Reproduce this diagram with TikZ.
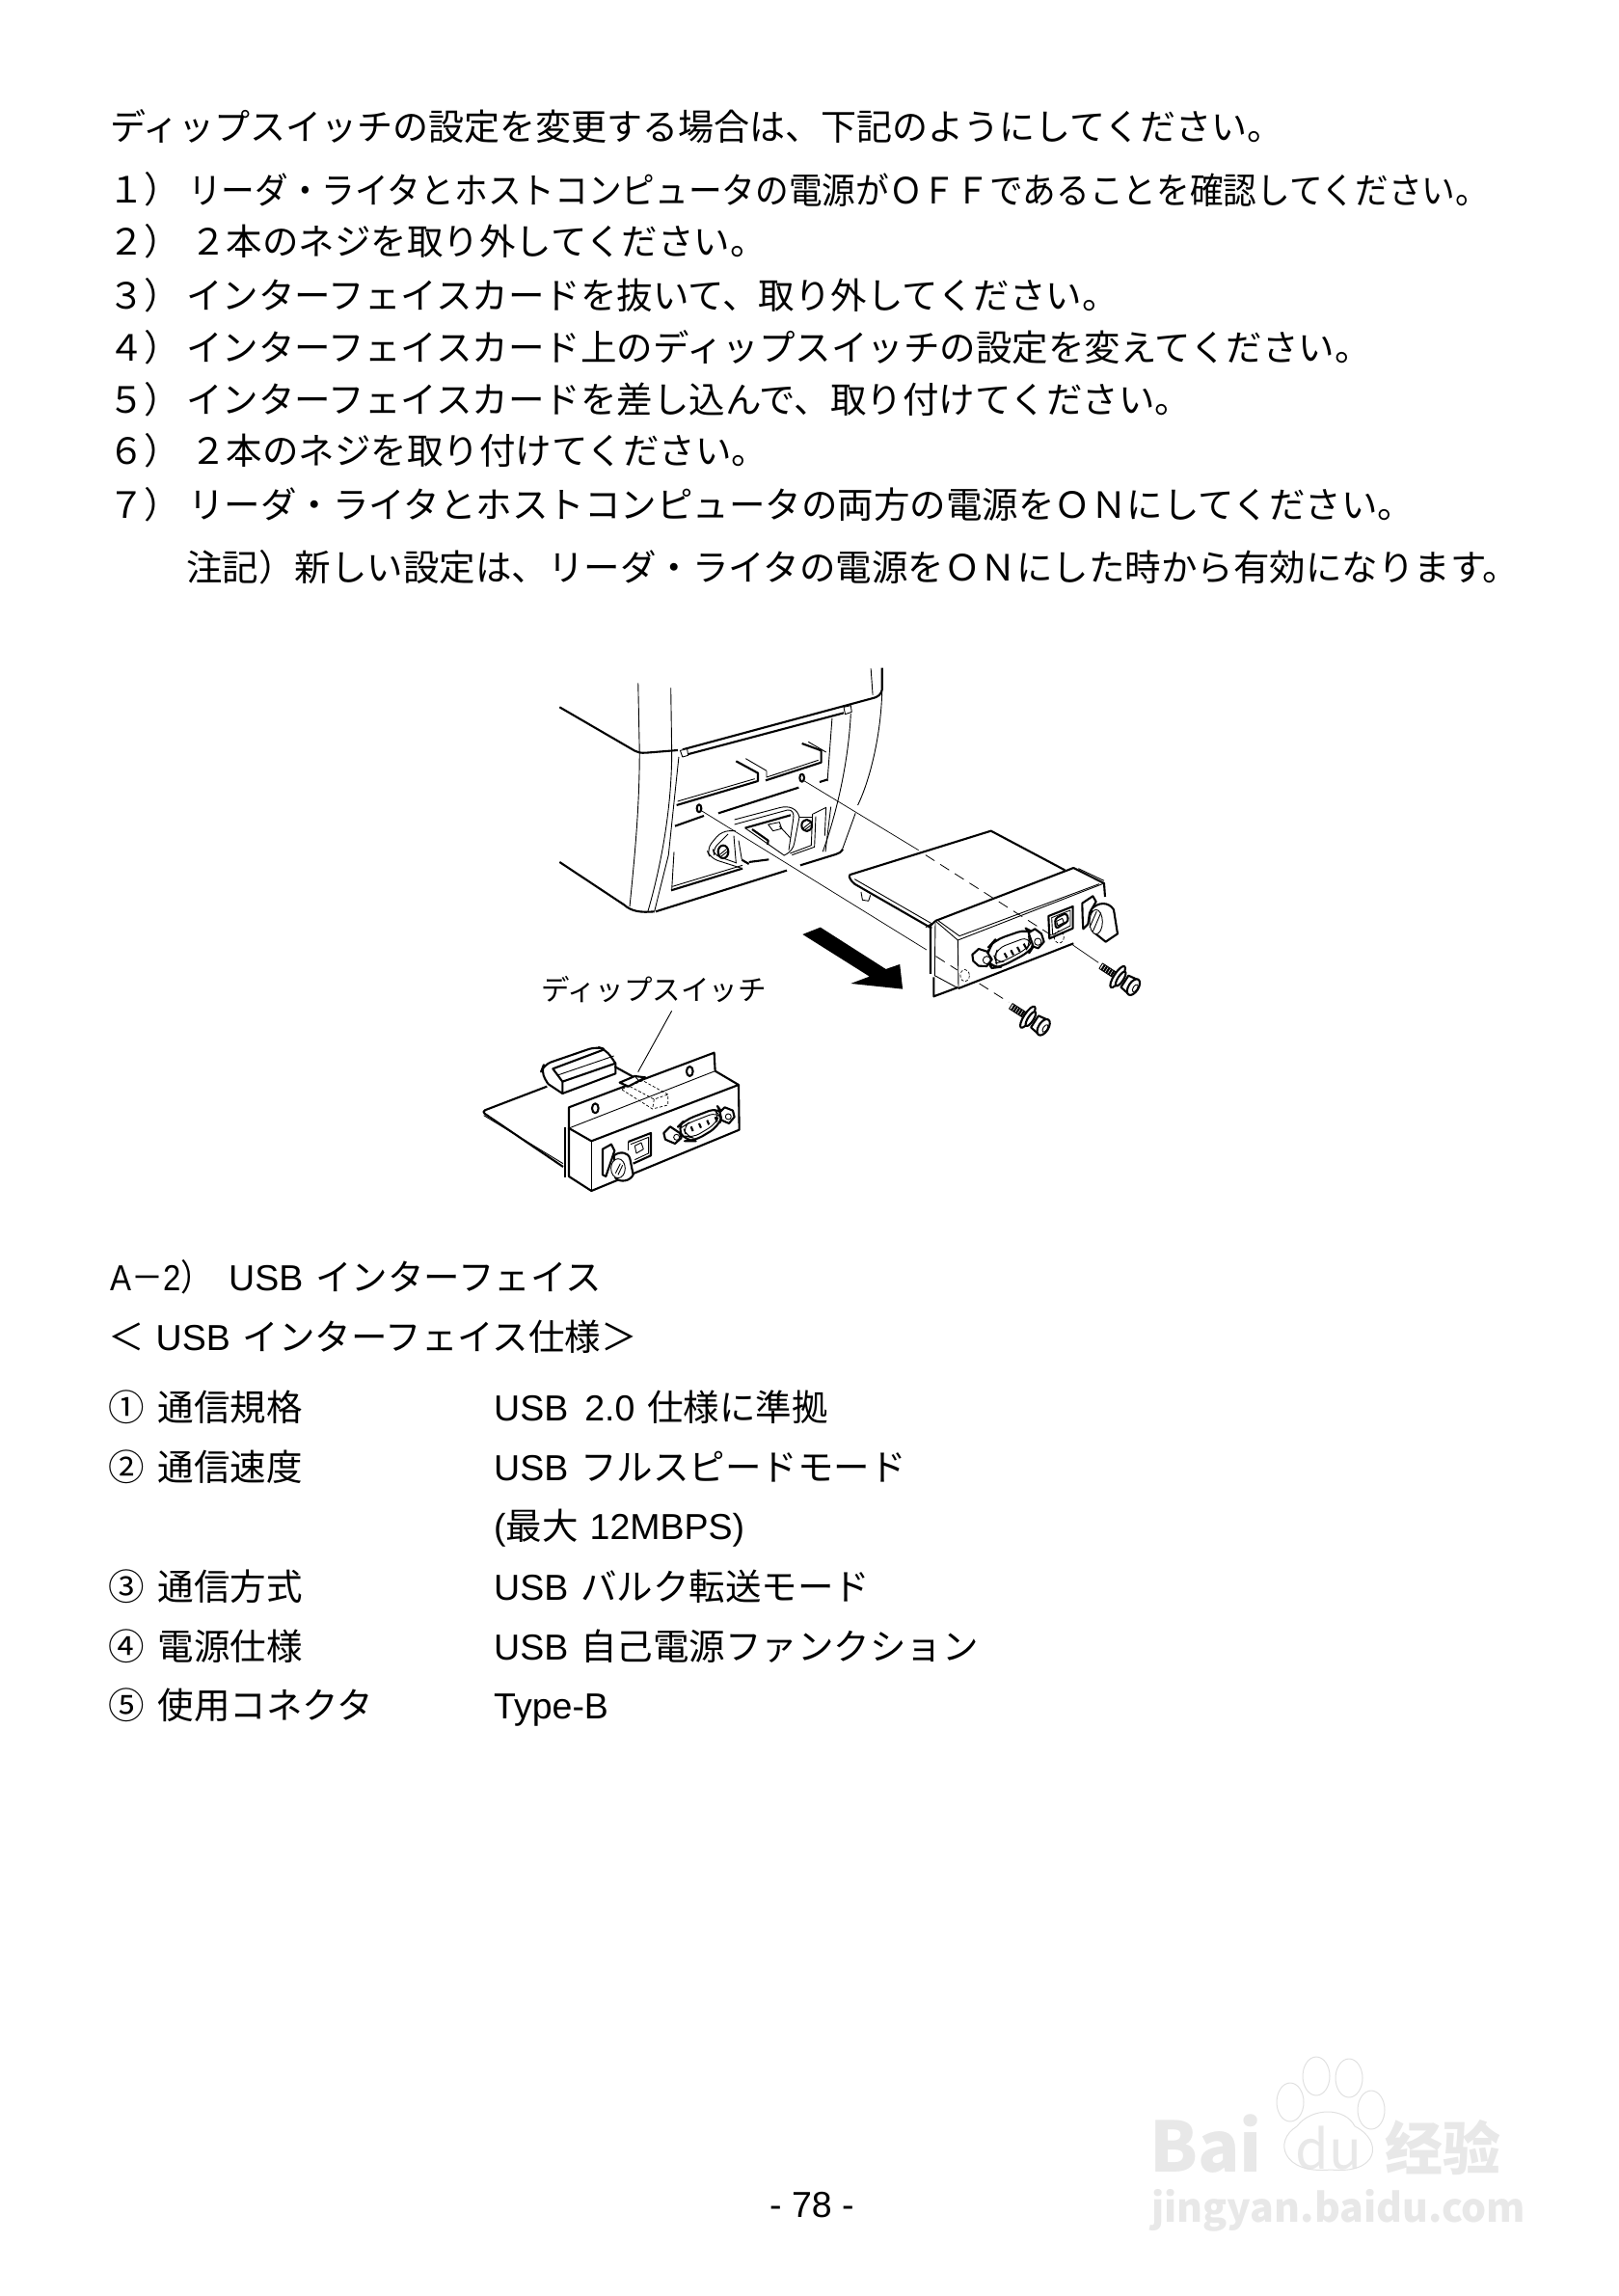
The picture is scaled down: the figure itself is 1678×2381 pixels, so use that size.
\documentclass[tikz,border=0pt]{standalone}
\usepackage{fontspec}
\setmainfont{Noto Sans CJK JP}
\newfontfamily\latn{Liberation Sans}
\newcommand{\ksp}{\hspace{13pt}}
\newcommand{\usbtxt}{{\latn USB}\ksp}
\usetikzlibrary{shapes.geometric}
\tikzset{
    txt/.style={anchor=base west,inner sep=0pt,font=\fontsize{37.5}{37.5}\selectfont},
    thinln/.style={line width=0.9pt,line join=round},
    thickln/.style={line width=2.1pt,line join=round},
    hairln/.style={line width=0.7pt},
    dashln/.style={line width=0.8pt,dash pattern=on 11pt off 7pt},
    wmark/.style={inner sep=0pt,text=black!9}
}
\begin{document}
\begin{tikzpicture}[x=1pt,y=-1pt]
    \useasboundingbox (0,0) rectangle (1678,2381);
    % instruction text
    \node[txt] (intro) at (114,146) {\scalebox{0.987}[1]{ディップスイッチの設定を変更する場合は、下記のようにしてください。}};
    \node[txt] (numa) at (112,211) {１）};
    \node[txt] (linea) at (195,212) {\scalebox{0.925}[1]{リーダ・ライタとホストコンピュータの電源がＯＦＦであることを確認してください。}};
    \node[txt] (numb) at (112,265) {２）};
    \node[txt] (lineb) at (197,265) {２本のネジを取り外してください。};
    \node[txt] (numc) at (112,320) {３）};
    \node[txt] (linec) at (193,320) {インターフェイスカードを抜いて、取り外してください。};
    \node[txt] (numd) at (112,374) {４）};
    \node[txt] (lined) at (193,374) {インターフェイスカード上のディップスイッチの設定を変えてください。};
    \node[txt] (nume) at (112,428) {５）};
    \node[txt] (linee) at (193,428) {インターフェイスカードを差し込んで、取り付けてください。};
    \node[txt] (numf) at (112,481) {６）};
    \node[txt] (linef) at (197,481) {２本のネジを取り付けてください。};
    \node[txt] (numg) at (112,537) {７）};
    \node[txt] (lineg) at (195,537) {リーダ・ライタとホストコンピュータの両方の電源をＯＮにしてください。};
    \node[txt] (note) at (193,602) {注記）新しい設定は、リーダ・ライタの電源をＯＮにした時から有効になります。};

    % printer body
    \begin{scope}[shift={(480pt,-670pt)},x=0.4847pt,y=-0.3333pt]
        \draw[thickln] (207,190) -- (368,326) .. controls (374,331) and (380,333) .. (392,332) -- (460,324);
        \draw[thinln] (375,115) -- (378,330) .. controls (378,500) and (368,650) .. (357,810);
        \draw[thinln] (445,130) -- (447,330) .. controls (447,500) and (425,680) .. (396,825);
        \draw[thinln] (462,345) -- (440,650) -- (410,825);
        \draw[thickln] (207,672) -- (345,805) .. controls (360,825) and (380,830) .. (410,826);
        \draw[thickln] (897,68) -- (897,135) .. controls (895,150) and (890,158) .. (875,163) -- (470,322);
        \draw[thinln] (873,70) -- (877,152);
        \draw[thinln] (897,135) .. controls (895,280) and (870,420) .. (845,495);
        \draw[thinln] (840,520) -- (810,640);
        \draw[thinln] (830,210) .. controls (825,360) and (800,520) .. (770,640);
        \draw[thinln] (790,225) -- (780,420);
        \draw[thickln] (815,208) -- (478,338);
        \draw[thinln,fill=white] (465,325) -- (480,320) -- (482,340) -- (470,345) -- cycle;
        \draw[thinln,fill=white] (815,190) -- (830,185) -- (832,205) -- (818,212) -- cycle;
    \end{scope}

    % opening and power inlet
    \begin{scope}[shift={(680pt,-760pt)},x=0.3333pt,y=-0.3333pt]
        \draw[thickln] (65,225) -- (318,150) -- (318,125) -- (250,88);
        \draw[thinln] (68,213) -- (308,143);
        \draw[thinln] (280,80) -- (345,118);
        \draw[thickln] (342,148) -- (515,92) -- (515,55) -- (455,33);
        \draw[thinln] (345,118) -- (345,138) -- (506,85);
        \draw[thinln] (475,28) -- (530,60);
        \draw[thickln] (60,290) -- (150,258);
        \draw[thickln] (195,250) -- (445,170);
        \draw[thickln] (510,153) -- (535,145);
        \draw[thinln] (545,230) -- (528,370);
        % lower panel
        \draw[thinln] (57,370) -- (50,488);
        \draw[thinln] (52,478) -- (270,412);
        \draw[thickln] (48,490) -- (270,422);
        \draw[thickln] (0,556) -- (408,428);
        \draw[thickln] (450,412) -- (560,378) .. controls (570,375) and (576,372) .. (582,362);
        % inlet
        \draw[thinln] (245,270) -- (385,233) .. controls (415,225) and (440,235) .. (447,262) -- (432,340) .. controls (430,360) and (415,375) .. (398,382);
        \draw[thinln] (245,285) -- (410,240) .. controls (425,238) and (432,250) .. (428,270) -- (414,365);
        \draw[thickln] (278,296) -- (420,256);
        \draw[thickln] (300,300) -- (350,335) -- (348,348);
        \draw[thinln] (278,296) -- (398,380);
        \draw[thinln] (350,285) -- (385,278) -- (392,298) -- (365,305) -- cycle;
        \draw[thinln] (385,290) -- (420,328);
        % right flange
        \draw[thinln] (448,262) -- (490,262);
        \draw[thinln] (490,252) -- (530,232) -- (526,320);
        \draw[thinln] (488,252) -- (484,350) -- (418,375);
        \draw[thinln] (498,260) -- (494,355) -- (424,380);
        \draw[thickln,fill=white] (470,288) ellipse (16 and 18);
        \draw[thinln] (460,296) -- (480,280) (464,302) -- (482,288);
        % left flange
        \draw[thinln,rounded corners=8pt] (248,305) -- (205,305) -- (158,362) -- (170,390) -- (270,422);
        \draw[thinln,rounded corners=6pt] (225,315) -- (178,362) -- (182,380) -- (252,405);
        \draw[thinln] (243,320) -- (250,405);
        \draw[thinln] (258,335) -- (268,395);
        \draw[thickln] (268,395) -- (290,408);
        \draw[thickln] (290,402) -- (352,394);
        \draw[thickln,fill=white] (210,370) ellipse (16 and 20);
        \draw[thinln] (200,378) -- (220,362) (204,384) -- (222,370);
        % screw holes
        \draw[thickln] (135,235) ellipse (7 and 12);
        \draw[thickln] (455,140) ellipse (7 and 12);
        \coordinate (holea) at (142,242);
        \coordinate (holeb) at (463,150);
    \end{scope}

    % sight lines, card and arrow
    \begin{scope}[shift={(480pt,-670pt)},x=0.4847pt,y=-0.3333pt]
        \draw[hairln] (holea) -- (992,945);
        \draw[dashln] (1012,965) -- (1058,1008);
        \draw[dashln] (1105,1050) -- (1168,1108);
        \draw[hairln] (holeb) -- (975,635);
        \draw[dashln] (990,650) -- (1265,905);
        \draw[hairln] (1305,930) -- (1360,985);
        \draw[thickln] (827,712) -- (1130,575) -- (1288,697);
        \draw[thickln] (827,712) .. controls (826,720) and (830,730) .. (838,740) -- (1003,878);
        \draw[thinln] (838,725) -- (1005,865);
        \draw[thinln] (852,765) -- (855,790) -- (868,793) -- (872,775);
        \fill[black] (727,897) -- (765,875) -- (905,1005) -- (935,990) -- (941,1067) -- (830,1050) -- (870,1028) -- cycle;
    \end{scope}

    % bracket of the card
    \begin{scope}[shift={(960pt,-880pt)},x=0.3333pt,y=-0.3333pt]
        \draw[thickln] (30,225) -- (460,60) -- (555,108) -- (558,150);
        \draw[thinln] (475,62) -- (555,100);
        \draw[thinln] (30,225) -- (100,285) -- (555,108);
        \draw[thinln] (40,225) -- (105,272) -- (540,110);
        \draw[thinln] (100,285) -- (102,435);
        \draw[thickln] (102,435) -- (460,295);
        \draw[thickln] (30,225) -- (15,240) -- (15,390);
        \draw[thinln] (30,225) -- (28,395) -- (102,435);
        \draw[thickln] (25,400) -- (25,460) -- (100,432);
        \draw[thinln] (0,245) -- (15,235);
        \draw[hairln,densely dashed] (122,395) ellipse (14 and 19);
        % serial connector
        \draw[thickln,rounded corners=10pt,fill=white] (190,345) -- (197,305) -- (215,285) -- (315,250) -- (337,262) -- (338,300) -- (325,320) -- (235,368) -- (205,372) -- cycle;
        \draw[thinln,rounded corners=8pt] (214,338) -- (224,310) -- (320,274) -- (326,295) -- (315,312) -- (240,352) -- (220,356) -- cycle;
        \foreach \pinx/\piny in {245/325,265/316,285/306,305/296} {
            \draw[thickln] (\pinx,\piny) -- (\pinx+8,\piny+15);
        }
        \draw[thickln,fill=white] (145,330) -- (165,312) -- (190,320) -- (206,345) -- (190,366) -- (165,365) -- (148,350) -- cycle;
        \draw[thinln] (190,347) circle (12);
        \draw[thickln,fill=white] (320,262) -- (340,250) -- (360,265) -- (368,290) -- (350,310) -- (335,305) -- cycle;
        \draw[thinln] (349,290) circle (11);
        % usb port
        \draw[thickln] (382,210) -- (458,180) -- (458,248) -- (385,280) -- cycle;
        \draw[thinln] (392,215) -- (450,192) -- (450,240) -- (395,268) -- cycle;
        \draw[thickln,fill=white,rounded corners=3pt] (402,218) -- (438,200) -- (445,225) -- (420,240) -- (405,250) -- cycle;
        \draw[thinln] (407,226) -- (425,217) -- (430,230) -- (411,240) -- cycle;
        \draw[hairln,densely dashed] (415,275) ellipse (15 and 19);
        % thumb screw
        \draw[thickln] (487,170) -- (520,148) -- (530,165) -- (510,200) -- (505,235) -- (490,250) -- (488,210) -- cycle;
        \draw[thickln,fill=white] (515,190) .. controls (535,165) and (570,165) .. (585,190) -- (597,265) -- (560,290) -- (525,262) -- cycle;
        \draw[thinln,fill=white] (530,228) ellipse (20 and 38);
        \draw[thinln] (520,258) -- (545,200) (510,245) -- (532,195);
        % loose screws
        \foreach \scrx/\scry in {545/365,265/490} {
            \begin{scope}[shift={(\scrx,\scry)},rotate=-33,scale=1.08]
                \draw[thinln,fill=white] (0,-9) -- (45,-9) -- (45,9) -- (0,9) -- cycle;
                \foreach \thr in {8,16,24,32,40} {
                    \draw[thickln] (\thr,-9) -- (\thr,9);
                }
                \draw[thickln,fill=white] (58,0) ellipse (11 and 36);
                \draw[thickln,fill=white] (68,0) ellipse (8 and 24);
                \draw[thickln,fill=white] (82,-20) -- (108,-24) -- (108,24) -- (82,20) -- cycle;
                \draw[thickln,fill=white] (112,0) ellipse (14 and 26);
                \draw[thinln] (118,0) ellipse (6 and 12);
            \end{scope}
        }
    \end{scope}

    % lower drawing, card with the switch
    \node[inner sep=0pt,font=\fontsize{29.5}{29.5}\selectfont] (swlabel) at (678,1026) {ディップスイッチ};
    \begin{scope}[shift={(480pt,-980pt)},x=0.3333pt,y=-0.3333pt]
        \coordinate (leadtop) at (650,205);
        \coordinate (leadend) at (545,395);
        \draw[thinln] (leadtop) -- (leadend);
        % board
        \draw[thickln,rounded corners=4pt] (262,440) -- (58,518) -- (312,690);
        \draw[thinln] (65,530) -- (312,680);
        \draw[thickln] (472,378) -- (530,410);
        % board connector
        \draw[thickln,rounded corners=8pt] (265,432) -- (243,395) -- (252,372) -- (415,316) -- (445,325) -- (475,368);
        \draw[thickln] (310,462) -- (475,400) -- (475,368) -- (310,425) -- (280,385) -- (440,325);
        \draw[thinln] (295,405) -- (470,345);
        \draw[thickln] (310,425) -- (310,462) -- (265,432);
        % plate
        \draw[thickln] (330,572) -- (330,505) -- (782,335) -- (785,392);
        \draw[thickln] (412,508) ellipse (10 and 15);
        \draw[thickln] (706,393) ellipse (10 and 15);
        % box
        \draw[thinln] (330,570) -- (785,392);
        \draw[thickln] (330,570) -- (400,610) -- (858,435) -- (785,392);
        \draw[thinln] (400,610) -- (400,765);
        \draw[thickln] (330,570) -- (330,720) -- (400,765) -- (860,575) -- (858,435);
        \draw[thickln] (318,568) -- (318,722);
        % switch
        \draw[thickln,fill=white] (488,428) -- (535,408) -- (568,412) -- (515,440) -- cycle;
        \draw[thinln] (535,408) -- (550,425);
        \draw[hairln,densely dashed] (495,448) -- (560,422) -- (638,465) -- (638,498) -- (590,510) -- (495,450);
        \draw[hairln,densely dashed] (520,440) -- (595,480) -- (638,465);
        \draw[hairln,densely dashed] (595,480) -- (590,510);
        % serial connector
        \draw[thickln,rounded corners=10pt,fill=white] (665,570) -- (690,545) -- (795,505) -- (810,525) -- (795,565) -- (720,610) -- (695,610) -- cycle;
        \draw[thinln,rounded corners=8pt] (685,565) -- (700,555) -- (790,520) -- (798,530) -- (785,558) -- (715,600) -- (695,595) -- cycle;
        \foreach \pinx in {710,735,760,785} {
            \draw[thickln] (\pinx,565-0.4*\pinx+284) -- ++(6,14);
        }
        \draw[thickln,fill=white] (625,585) -- (645,565) -- (675,585) -- (680,600) -- (660,618) -- (630,605) -- cycle;
        \draw[thinln] (665,598) circle (9);
        \draw[thickln,fill=white] (800,520) -- (815,505) -- (840,515) -- (845,535) -- (828,555) -- (805,545) -- cycle;
        \draw[thinln] (826,534) circle (9);
        % usb port
        \draw[thickln] (515,612) -- (585,585) -- (585,655) -- (530,680);
        \draw[thinln] (515,612) -- (515,640);
        \draw[thinln] (522,620) -- (578,598) -- (578,648) -- (535,668);
        \draw[thinln,fill=white] (535,625) -- (555,615) -- (562,635) -- (540,648) -- cycle;
        % thumb screw
        \draw[thickln] (435,635) -- (462,620) -- (472,640) -- (445,720) -- (435,715) -- cycle;
        \draw[thickln,fill=white] (470,655) .. controls (490,640) and (515,645) .. (520,665) -- (530,715) .. controls (520,735) and (490,740) .. (475,725) -- cycle;
        \draw[thinln,fill=white] (483,695) ellipse (22 and 30);
        \draw[thinln] (475,710) -- (490,680) (483,715) -- (497,685);
    \end{scope}

    % usb section
    \node[txt] (secno) at (114,1338) {\scalebox{0.88}[1]{{\latn A}－{\latn 2}）}};
    \node[txt] (sectitle) at (237,1338) {\usbtxt インターフェイス};
    \node[txt] (spectitle) at (112,1400) {＜\hspace{12pt}\usbtxt インターフェイス仕様＞};
    \node[txt] (speca) at (112,1473) {①\hspace{14pt}通信規格};
    \node[txt] (specaval) at (512,1473) {{\latn USB}\hspace{17pt}{\latn 2.0}\ksp 仕様に準拠};
    \node[txt] (specb) at (112,1535) {②\hspace{14pt}通信速度};
    \node[txt] (specbval) at (512,1535) {\usbtxt フルスピードモード};
    \node[txt] (specbmax) at (512,1596) {{\latn (}最大\hspace{12pt}{\latn 12MBPS)}};
    \node[txt] (specc) at (112,1659) {③\hspace{14pt}通信方式};
    \node[txt] (speccval) at (512,1659) {\usbtxt バルク転送モード};
    \node[txt] (specd) at (112,1721) {④\hspace{14pt}電源仕様};
    \node[txt] (specdval) at (512,1721) {\usbtxt 自己電源ファンクション};
    \node[txt] (spece) at (112,1782) {⑤\hspace{14pt}使用コネクタ};
    \node[txt] (speceval) at (512,1782) {{\latn Type-B}};
    \node[txt,anchor=base] (pageno) at (842,2299) {\latn - 78 -};

    % watermark
    \node[wmark,font=\bfseries\fontsize{72}{72}\selectfont,anchor=base west] (wmbai) at (1192,2252) {Bai};
    \node[wmark,font=\fontsize{56}{56}\selectfont] (wmdu) at (1378,2228) {du};
    \node[wmark,font=\bfseries\fontsize{60}{60}\selectfont,anchor=base west] (wmjy) at (1436,2250) {经验};
    \node[wmark,font=\bfseries\fontsize{41}{41}\selectfont,anchor=base west] (wmurl) at (1194,2304) {jingyan.baidu.com};
    \draw[black!12,line width=1pt] (1338,2180) ellipse (14 and 20);
    \draw[black!12,line width=1pt] (1365,2153) ellipse (14 and 20);
    \draw[black!12,line width=1pt] (1399,2155) ellipse (14 and 20);
    \draw[black!12,line width=1pt] (1422,2188) ellipse (14 and 20);
    \draw[black!12,line width=1pt] (1380,2250) .. controls (1330,2255) and (1320,2220) .. (1345,2205) .. controls (1360,2185) and (1395,2185) .. (1405,2205) .. controls (1435,2220) and (1430,2255) .. (1380,2250);
\end{tikzpicture}
\end{document}
